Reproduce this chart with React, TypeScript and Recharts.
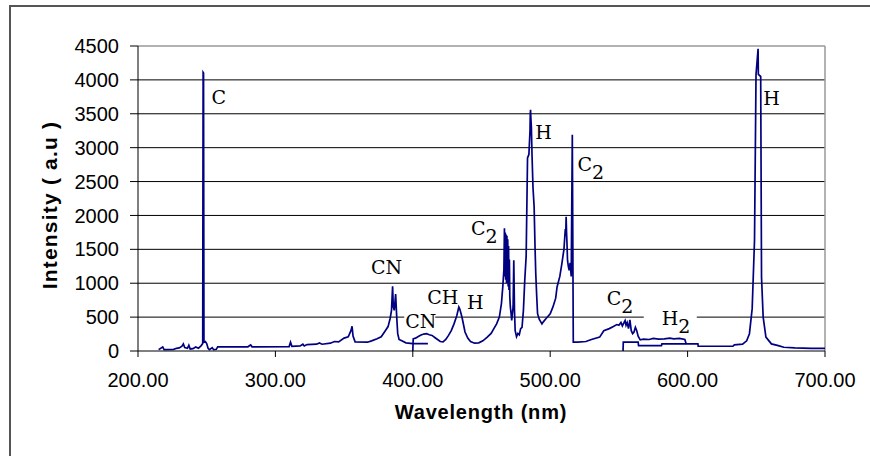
import React from 'react';
import { LineChart, Line, XAxis, YAxis, CartesianGrid, ReferenceLine, ReferenceDot } from 'recharts';

// Emission spectrum, split into the three recorded scan segments.
const scanAWavelength = [
  215, 218, 219, 226, 228, 230, 232, 233, 234, 236, 237, 238, 240, 242, 244, 246, 247.1,
  247.4, 247.7, 248.0, 249, 250, 251, 252, 254, 255, 257, 258, 260, 280, 282, 283, 310, 311, 312,
  318, 320, 321, 323, 330, 332, 334, 340, 343, 346, 350, 353, 355, 355.8, 356.5, 358, 367,
  370, 374, 377, 380, 382, 383.5, 384.5, 385.3, 385.8, 386.5, 387.5, 388.3, 389, 390, 392,
  395, 400, 411,
];
const scanAIntensity = [
  20, 60, 20, 25, 40, 45, 70, 105, 50, 40, 85, 30, 35, 60, 40, 80, 110,
  4110, 4100, 130, 140, 110, 40, 20, 50, 20, 25, 60, 60, 62, 90, 62, 65, 130, 70,
  75, 100, 75, 95, 100, 120, 100, 115, 140, 135, 190, 210, 300, 365, 220, 135, 130,
  150, 180, 210, 300, 360, 480, 600, 955, 650, 600, 840, 500, 260, 170, 150,
  120, 110, 110,
];

const scanBWavelength = [
  400, 400.3, 402, 404, 406, 408, 410, 412, 414, 416, 418, 420, 422, 424, 426, 428, 430,
  432, 433.5, 434.2, 435, 436, 437, 438, 440, 442, 445, 448, 451, 454, 457, 459, 461, 463,
  464.5, 465.5, 466.3, 466.7, 467, 467.3, 467.6, 467.9, 468.2, 468.5, 468.8, 469.1, 469.4,
  469.7, 470, 470.3, 470.6, 471, 471.5, 472, 473, 473.5, 474, 474.5, 475.5, 476.5, 477.5,
  478.5, 479.5, 480.5, 481.5, 482.5, 483.5, 484.5, 485.3, 485.5, 485.7, 485.9, 486.3, 486.8,
  487.5, 488.3, 489, 489.5, 490.2, 490.8, 492, 494, 495, 497, 500, 502, 504, 505, 507,
  508.5, 510, 510.5, 511, 511.3, 511.6, 511.9, 512.2, 512.6, 513.2, 513.8, 514.5, 515.3,
  516.1, 516.8, 520, 526, 530, 536, 539, 543, 546, 548.5, 550, 551.5, 552.5, 554.5, 555.2,
  556, 557, 558, 559, 560, 561, 562, 563, 564, 565.5, 568, 572, 575, 579, 583, 587, 590,
  594, 598, 599,
];
const scanBIntensity = [
  0, 180, 190, 215, 235, 250, 255, 240, 230, 200, 170, 140, 135, 170, 230, 300, 400,
  520, 650, 620, 560, 480, 380, 280, 190, 140, 115, 120, 150, 200, 260, 330, 400, 500,
  700, 950, 1200, 1810, 1100, 1750, 1050, 1720, 1000, 1700, 1100, 1650, 950,
  1550, 900, 1350, 800, 650, 560, 450, 650, 1340, 600, 300, 210, 260, 240,
  330, 350, 600, 1050, 1400, 2850, 2900, 3250, 3500, 3560, 3450, 3300, 2870,
  2400, 2130, 1500, 1140, 800, 550, 470, 400, 430, 480, 550, 650, 780, 945, 1100,
  1290, 1500, 1650, 1800, 1700, 1980, 1750, 1600, 1340, 1250, 1190, 1300, 1100,
  3190, 130, 130, 140, 170, 205, 300, 330, 360, 390, 380, 420, 370, 450, 380,
  420, 330, 460, 300, 255, 280, 350, 300, 220, 165, 175, 170, 185, 175, 180, 190, 180,
  185, 170, 105,
];

const scanCWavelength = [
  553, 553.2, 564, 564.3, 581, 581.3, 599, 607.5, 607.7, 633, 634, 640, 643, 645, 647,
  648.7, 649.8, 651.3, 651.5, 653.2, 653.8, 655, 657, 661, 666, 670, 678, 690, 700,
];
const scanCIntensity = [
  0, 130, 130, 80, 80, 105, 105, 105, 70, 70, 90, 100, 150, 255, 625,
  1635, 4080, 4460, 4080, 4050, 1090, 500, 205, 105, 80, 55, 45, 40, 40,
];

const xTicks = [200, 300, 400, 500, 600, 700];
const yTicks = [0, 500, 1000, 1500, 2000, 2500, 3000, 3500, 4000, 4500];
const gridValues = [500, 1000, 1500, 2000, 2500, 3000, 3500, 4000];

// Peak labels: species, subscript, anchor (wavelength, intensity) at the text baseline start.
const peakSpecies = ['C', 'CN', 'CN', 'CH', 'H', 'C', 'H', 'C', 'C', 'H', 'H'];
const peakSubscripts = ['', '', '', '', '', '2', '', '2', '2', '2', ''];
const peakLabelWavelength = [253.5, 369.5, 394.5, 410.5, 439.4, 442.4, 489.1, 519.9, 541.2, 581.2, 655.1];
const peakLabelIntensity = [3650, 1133, 343, 699, 625, 1710, 3128, 2663, 674, 378, 3636];
const peakLabelBoxed = [false, false, true, false, false, false, false, false, false, true, false];

const toPoints = (w: number[], v: number[]) => w.map((wl, k) => ({ wl, intensity: v[k] }));
const scanA = toPoints(scanAWavelength, scanAIntensity);
const scanB = toPoints(scanBWavelength, scanBIntensity);
const scanC = toPoints(scanCWavelength, scanCIntensity);

const LINE_COLOR = '#000080';
const SANS = 'Liberation Sans, Arial, sans-serif';
const SERIF = 'DejaVu Serif, serif';

const PeakLabel = (props: any) => {
  const { cx, cy, text, sub, boxed } = props;
  if (cx == null || cy == null) return null;
  return (
    <g>
      {boxed && sub ? <rect x={cx - 18} y={cy - 14} width={53} height={22} fill="#fff" /> : null}
      {boxed && !sub ? <rect x={cx - 1} y={cy - 15} width={31} height={17} fill="#fff" /> : null}
      <text x={cx} y={cy} fontFamily={SERIF} fontSize={19} fill="#000">
        {text}
        {sub ? <tspan dy={8}>{sub}</tspan> : null}
      </text>
    </g>
  );
};

const XTitle = () => (
  <text x={481} y={419} textAnchor="middle" fontFamily={SANS} fontWeight="bold" fontSize={20} letterSpacing={0.8} fill="#000">
    Wavelength (nm)
  </text>
);

const YTitle = () => (
  <text
    x={57}
    y={205}
    transform="rotate(-90, 57, 205)"
    textAnchor="middle"
    fontFamily={SANS}
    fontWeight="bold"
    fontSize={21}
    letterSpacing={1.2}
    fill="#000"
  >
    Intensity ( a.u )
  </text>
);

export default function App() {
  return (
    <div style={{ position: 'absolute', left: 0, top: 0, width: 870, height: 456, overflow: 'hidden', background: '#fff' }}>
      <div
        style={{
          position: 'absolute', left: 9, top: 5, width: 900, height: 500,
          borderTop: '2px solid #555', borderLeft: '2px solid #555', boxSizing: 'border-box',
        }}
      />
      <div style={{ position: 'absolute', left: 0, top: 0 }}>
        <LineChart width={870} height={456} margin={{ top: 46, right: 45, bottom: 0, left: 0 }}>
          <CartesianGrid horizontal vertical={false} horizontalValues={gridValues} stroke="#000" strokeWidth={1} />
          <XAxis
            type="number"
            dataKey="wl"
            domain={[200, 700]}
            ticks={xTicks}
            allowDataOverflow
            height={105}
            tickSize={6}
            tickMargin={16}
            stroke="#000"
            tickFormatter={(v: number) => v.toFixed(2)}
            tick={{ fontFamily: SANS, fontSize: 20, fill: '#000' }}
          />
          <YAxis
            type="number"
            dataKey="intensity"
            domain={[0, 4500]}
            ticks={yTicks}
            width={138}
            tickSize={8}
            tickMargin={11}
            stroke="#000"
            tick={{ fontFamily: SANS, fontSize: 20, fill: '#000' }}
          />
          <ReferenceLine y={4500} stroke="#999" strokeWidth={1.5} />
          <ReferenceLine x={700} stroke="#999" strokeWidth={1.5} />
          <Line data={scanA} dataKey="intensity" stroke={LINE_COLOR} strokeWidth={1.7} dot={false} isAnimationActive={false} type="linear" />
          <Line data={scanB} dataKey="intensity" stroke={LINE_COLOR} strokeWidth={1.7} dot={false} isAnimationActive={false} type="linear" />
          <Line data={scanC} dataKey="intensity" stroke={LINE_COLOR} strokeWidth={1.7} dot={false} isAnimationActive={false} type="linear" />
          {peakSpecies.map((name, k) => (
            <ReferenceDot
              key={k}
              x={peakLabelWavelength[k]}
              y={peakLabelIntensity[k]}
              r={0}
              shape={(p: any) => (
                <PeakLabel {...p} text={name} sub={peakSubscripts[k]} boxed={peakLabelBoxed[k]} />
              )}
            />
          ))}
          <XTitle />
          <YTitle />
        </LineChart>
      </div>
    </div>
  );
}
